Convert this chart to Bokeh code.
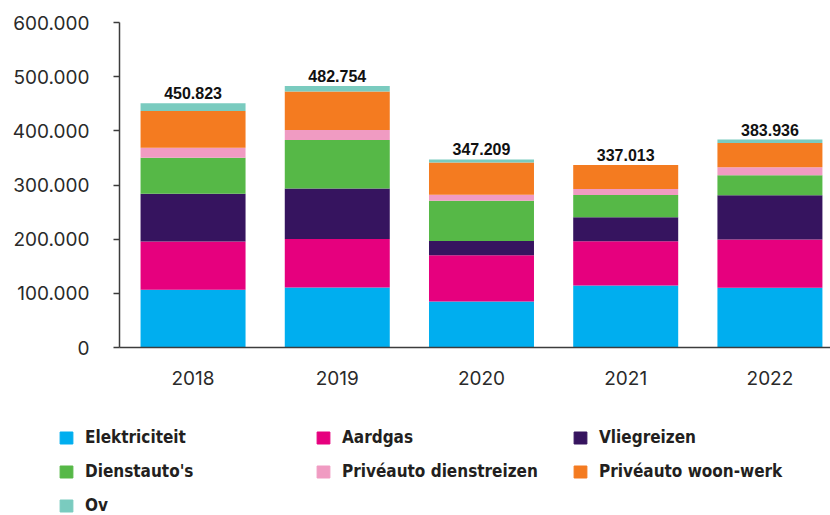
from bokeh.plotting import figure
from bokeh.layouts import column
from bokeh.models import (ColumnDataSource, Range1d, FixedTicker,
                          CustomJSTickFormatter, Legend, LegendItem)
from bokeh.core.properties import value
from bokeh.embed import file_html
from bokeh.resources import INLINE

# CO2 emissions per source (kg), stacked per year
years = [2018, 2019, 2020, 2021, 2022]
elektriciteit = [106500, 111000, 85000, 114500, 110500]
aardgas = [89000, 89500, 85500, 81500, 89000]
vliegreizen = [88500, 93000, 26000, 44500, 81500]
dienstautos = [66500, 89500, 74500, 41000, 37000]
priveauto_dienstreizen = [18500, 18500, 11000, 11000, 15000]
priveauto_woon_werk = [67500, 71000, 59500, 44513, 44500]
ov = [14323, 10254, 5709, 0, 6436]

series_names = ["Elektriciteit", "Aardgas", "Vliegreizen", "Dienstauto's",
                "Privéauto dienstreizen", "Privéauto woon-werk", "Ov"]
series_values = [elektriciteit, aardgas, vliegreizen, dienstautos,
                 priveauto_dienstreizen, priveauto_woon_werk, ov]
colors = ["#00aeef", "#e6007e", "#36145f", "#56b847",
          "#f09bc2", "#f47b20", "#7acbbf"]
y_ticks = [0, 100000, 200000, 300000, 400000, 500000, 600000]

keys = [f"s{i}" for i in range(len(series_names))]
data = {"year": years}
for k, vals in zip(keys, series_values):
    data[k] = vals
source = ColumnDataSource(data)

totals = [sum(col) for col in zip(*series_values)]
total_labels = [f"{t:,}".replace(",", ".") for t in totals]

# --- main stacked bar chart ---
p = figure(width=830, height=395,
           x_range=Range1d(2017.49, 2022.42), y_range=Range1d(0, 600000),
           output_backend="svg", toolbar_location=None,
           min_border_left=119, min_border_right=0,
           min_border_top=22, min_border_bottom=48)
p.outline_line_color = None
p.grid.visible = False
p.frame_align = False

p.vbar_stack(keys, x="year", width=0.728, color=colors,
             source=source, line_width=0)

p.text(x=years, y=totals, text=total_labels, text_align="center",
       text_baseline="alphabetic", y_offset=-10,
       text_font=value("Liberation Sans"), text_font_size="16px",
       text_font_style="bold", text_color="#111111")

axis_color = "#3c3c3c"
label_color = "#2a2a2a"

yaxis = p.yaxis[0]
yaxis.ticker = FixedTicker(ticks=y_ticks)
yaxis.formatter = CustomJSTickFormatter(
    code="return tick.toFixed(0).replace(/\\B(?=(\\d{3})+(?!\\d))/g, '.');")
yaxis.major_tick_out = 6
yaxis.major_tick_in = 0
yaxis.minor_tick_line_color = None
yaxis.major_label_standoff = 24
yaxis.axis_line_color = axis_color
yaxis.axis_line_width = 1.5
yaxis.major_tick_line_color = axis_color
yaxis.major_tick_line_width = 1.5
yaxis.major_label_text_font = "Inter"
yaxis.major_label_text_font_size = "19px"
yaxis.major_label_text_color = label_color

xaxis = p.xaxis[0]
xaxis.ticker = FixedTicker(ticks=years)
xaxis.major_tick_out = 0
xaxis.major_tick_in = 0
xaxis.minor_tick_line_color = None
xaxis.major_label_standoff = 23
xaxis.axis_line_color = axis_color
xaxis.axis_line_width = 1.5
xaxis.major_label_text_font = "Inter"
xaxis.major_label_text_font_size = "19px"
xaxis.major_label_text_color = label_color

# --- legend strip below the chart ---
lg = figure(width=830, height=120, x_range=Range1d(0, 1), y_range=Range1d(0, 1),
            x_axis_type=None, y_axis_type=None, output_backend="svg",
            toolbar_location=None, min_border=0)
lg.outline_line_color = None
lg.grid.visible = False
lg.frame_align = False

# hidden bar renderers that only supply the legend swatches
swatches = [lg.vbar(x="year", top=k, width=0.5, color=c, source=source, visible=False)
            for k, c in zip(keys, colors)]
items = [LegendItem(label=n, renderers=[r]) for n, r in zip(series_names, swatches)]
legend = Legend(items=items, location=(58, 0), orientation="horizontal",
                ncols=3, glyph_width=16, glyph_height=15, label_standoff=11,
                label_width=216, label_height=16, spacing=14, padding=0,
                margin=0, border_line_color=None, background_fill_alpha=0,
                inactive_fill_alpha=0,
                label_text_font="DejaVu Sans Condensed",
                label_text_font_style="bold", label_text_font_size="17px",
                label_text_color="#231f20")
lg.add_layout(legend, "center")

layout = column(p, lg, spacing=0)
open("out.html", "w").write(file_html(layout, INLINE))
